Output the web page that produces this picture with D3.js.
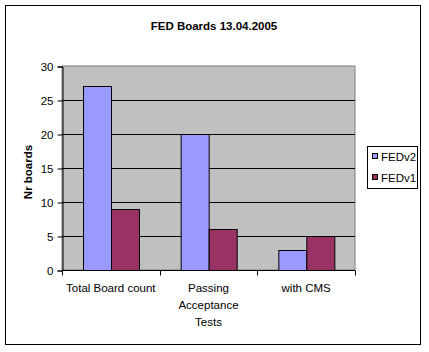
<!DOCTYPE html>
<html>
<head>
<meta charset="utf-8">
<script src="https://cdn.jsdelivr.net/npm/d3@7"></script>
<style>
    body { margin: 0; background: #fff; }
    text { font-family: "Liberation Sans", Arial, sans-serif; font-size: 11.5px; }
</style>
</head>
<body>
<svg id="chart" width="429" height="352"></svg>
<script>
    // chart data
    let categories = [["Total Board count"], ["Passing", "Acceptance", "Tests"], ["with CMS"]]
    let seriesNames = ["FEDv2", "FEDv1"]
    let fedv2 = [27, 20, 3]
    let fedv1 = [9, 6, 5]
    let yTicks = [0, 5, 10, 15, 20, 25, 30]
    let colors = ["#9999FF", "#993366"]

    let svg = d3.select("#chart")

    // outer frame
    svg.append("rect")
        .attr("x", 5.5).attr("y", 5.5)
        .attr("width", 415).attr("height", 339)
        .attr("fill", "white").attr("stroke", "black")

    svg.append("text")
        .attr("x", 214).attr("y", 30)
        .attr("text-anchor", "middle")
        .style("font-weight", "bold")
        .text("FED Boards 13.04.2005")

    let plotLeft = 62, plotRight = 355, plotTop = 66, plotBottom = 270

    let x0 = d3.scaleBand()
        .domain(d3.range(categories.length))
        .range([plotLeft, plotRight])
    let x1 = d3.scaleBand()
        .domain(seriesNames)
        .range([0, x0.bandwidth()])
        .paddingOuter(0.75)
    let y = d3.scaleLinear().domain([0, 30]).range([plotBottom, plotTop])

    svg.append("rect")
        .attr("x", plotLeft).attr("y", plotTop)
        .attr("width", plotRight - plotLeft).attr("height", plotBottom - plotTop)
        .attr("fill", "#C0C0C0")
        .attr("stroke", "#808080")

    // gridlines
    svg.append("g")
        .selectAll("line")
        .data(yTicks.filter(d => d > 0 && d < 30))
        .enter()
        .append("line")
        .attr("x1", plotLeft).attr("x2", plotRight)
        .attr("y1", d => Math.round(y(d)) + 0.5)
        .attr("y2", d => Math.round(y(d)) + 0.5)
        .attr("stroke", "black")

    // bars
    let rows = categories.map((c, i) => [
        { s: seriesNames[0], v: fedv2[i], i: i, c: colors[0] },
        { s: seriesNames[1], v: fedv1[i], i: i, c: colors[1] }
    ])
    svg.append("g")
        .selectAll("g")
        .data(rows)
        .enter()
        .append("g")
        .attr("transform", (d, i) => "translate(" + x0(i) + ",0)")
        .selectAll("rect")
        .data(d => d)
        .enter()
        .append("rect")
        .attr("x", d => Math.round(x1(d.s)) + 0.5)
        .attr("y", d => Math.round(y(d.v)) + 0.5)
        .attr("width", Math.round(x1.bandwidth()))
        .attr("height", d => Math.round(y(0)) - Math.round(y(d.v)))
        .attr("fill", d => d.c)
        .attr("stroke", "black")

    // y axis
    let yAxis = svg.append("g")
        .attr("transform", "translate(" + (plotLeft + 0.5) + ",0.5)")
        .call(d3.axisLeft(y).tickValues(yTicks).tickSize(5).tickPadding(4))
    yAxis.select(".domain").attr("stroke", "black")
    yAxis.selectAll("text").style("font-size", "11.5px").style("font-family", "Liberation Sans, Arial")

    // x axis
    let xAxis = svg.append("g")
        .attr("transform", "translate(0," + (plotBottom + 0.5) + ")")
    xAxis.append("line")
        .attr("x1", plotLeft).attr("x2", plotRight)
        .attr("stroke", "black")
    xAxis.selectAll(".tick")
        .data(d3.range(categories.length + 1))
        .enter()
        .append("line")
        .attr("x1", d => Math.round(plotLeft + d * x0.step()) + 0.5)
        .attr("x2", d => Math.round(plotLeft + d * x0.step()) + 0.5)
        .attr("y1", 0).attr("y2", 5)
        .attr("stroke", "black")

    categories.forEach((lines, i) => {
        let t = svg.append("text")
            .attr("text-anchor", "middle")
            .attr("x", x0(i) + x0.bandwidth() / 2)
            .attr("y", 292)
        lines.forEach((l, k) => {
            t.append("tspan")
                .attr("x", x0(i) + x0.bandwidth() / 2)
                .attr("dy", k == 0 ? 0 : 17)
                .text(l)
        })
    })

    svg.append("text")
        .attr("transform", "translate(32,172) rotate(-90)")
        .attr("text-anchor", "middle")
        .style("font-weight", "bold")
        .text("Nr boards")

    // legend
    let legend = svg.append("g")
    legend.append("rect")
        .attr("x", 367.5).attr("y", 146.5)
        .attr("width", 50).attr("height", 42)
        .attr("fill", "white").attr("stroke", "black")
    seriesNames.forEach((s, i) => {
        legend.append("rect")
            .attr("x", 372.5).attr("y", 153.5 + i * 21)
            .attr("width", 5).attr("height", 5)
            .attr("fill", colors[i]).attr("stroke", "black")
        legend.append("text")
            .attr("x", 381).attr("y", 161 + i * 21)
            .text(s)
    })
</script>
</body>
</html>
